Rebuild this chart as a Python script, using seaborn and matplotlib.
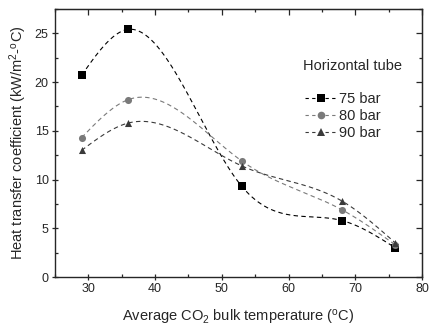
import numpy as np
import pandas as pd
import seaborn as sns
import matplotlib.pyplot as plt
from matplotlib.lines import Line2D
from matplotlib.ticker import MultipleLocator

# data
temps = [29, 36, 53, 68, 76]
h_75bar = [20.7, 25.4, 9.3, 5.8, 3.0]
h_80bar = [14.3, 18.2, 11.9, 6.9, 3.3]
h_90bar = [13.0, 15.8, 11.4, 7.8, 3.5]
labels = ['75 bar', '80 bar', '90 bar']


def natural_spline(x, y, n=200):
    ''' natural cubic spline through the points, for the smooth connecting line'''
    x = np.asarray(x, float)
    y = np.asarray(y, float)
    k = len(x)
    h = np.diff(x)
    A = np.zeros((k, k))
    b = np.zeros(k)
    A[0, 0] = 1
    A[-1, -1] = 1
    for i in range(1, k - 1):
        A[i, i - 1] = h[i - 1]
        A[i, i] = 2 * (h[i - 1] + h[i])
        A[i, i + 1] = h[i]
        b[i] = 6 * ((y[i + 1] - y[i]) / h[i] - (y[i] - y[i - 1]) / h[i - 1])
    M = np.linalg.solve(A, b)
    xs = np.linspace(x[0], x[-1], n)
    idx = np.clip(np.searchsorted(x, xs) - 1, 0, k - 2)
    x0, x1 = x[idx], x[idx + 1]
    hi = x1 - x0
    ys = (M[idx] * (x1 - xs) ** 3 / (6 * hi) + M[idx + 1] * (xs - x0) ** 3 / (6 * hi)
          + (y[idx] / hi - M[idx] * hi / 6) * (x1 - xs)
          + (y[idx + 1] / hi - M[idx + 1] * hi / 6) * (xs - x0))
    return xs, ys


sns.set_style('ticks')
plt.rcParams['font.family'] = ['Liberation Sans', 'DejaVu Sans']
plt.rcParams['mathtext.fontset'] = 'custom'
plt.rcParams['mathtext.rm'] = 'Liberation Sans'
plt.rcParams['mathtext.it'] = 'Liberation Sans'

fig = plt.figure(figsize=(4.29, 3.28), dpi=100)
ax = fig.add_axes([0.128, 0.155, 0.856, 0.818])

colors = ['#000000', '#7a7a7a', '#3a3a3a']
markers = ['s', 'o', '^']
handles = []
for vals, lab, c, m in zip([h_75bar, h_80bar, h_90bar], labels, colors, markers):
    xs, ys = natural_spline(temps, vals)
    ax.plot(xs, ys, linestyle=(0, (4, 3)), color=c, linewidth=0.8)
    df = pd.DataFrame({'T': temps, 'h': vals})
    sns.scatterplot(data=df, x='T', y='h', marker=m, color=c, s=26,
                    edgecolor=c, linewidth=0, ax=ax, zorder=3)
    handles.append(Line2D([0], [0], color=c, linestyle=(0, (3, 3)), linewidth=0.8,
                          marker=m, markersize=5.5, markeredgewidth=0, label=lab))

ax.set_xlim(25, 80)
ax.set_ylim(0, 27.5)
ax.xaxis.set_major_locator(MultipleLocator(10))
ax.xaxis.set_minor_locator(MultipleLocator(5))
ax.yaxis.set_major_locator(MultipleLocator(5))
ax.yaxis.set_minor_locator(MultipleLocator(2.5))
ax.tick_params(which='major', direction='inout', length=5, width=0.9, labelsize=9, pad=2)
ax.tick_params(which='minor', direction='in', length=2.5, width=0.9)
for s in ax.spines.values():
    s.set_linewidth(1.0)
    s.set_visible(True)

top = ax.secondary_xaxis('top')
top.xaxis.set_major_locator(MultipleLocator(10))
top.xaxis.set_minor_locator(MultipleLocator(5))
top.tick_params(which='both', direction='in', labeltop=False, width=0.9)
top.tick_params(which='major', length=4)
top.tick_params(which='minor', length=2.5)
right = ax.secondary_yaxis('right')
right.yaxis.set_major_locator(MultipleLocator(5))
right.yaxis.set_minor_locator(MultipleLocator(2.5))
right.tick_params(which='both', direction='in', labelright=False, width=0.9)
right.tick_params(which='major', length=4)
right.tick_params(which='minor', length=2.5)

ax.set_xlabel('Average CO$_2$ bulk temperature ($^\\mathrm{o}$C)', fontsize=10.5, labelpad=9)
ax.set_ylabel('Heat transfer coefficient (kW/m$^2$-$^\\mathrm{o}$C)', fontsize=10.5, labelpad=4)

ax.text(0.675, 0.772, 'Horizontal tube', transform=ax.transAxes, fontsize=10.5)
ax.legend(handles=handles, loc='upper left', bbox_to_anchor=(0.66, 0.718), frameon=False,
          fontsize=10.5, handlelength=2.2, handletextpad=0.15, labelspacing=0.2,
          borderpad=0)

plt.savefig('out.png', dpi=100)
